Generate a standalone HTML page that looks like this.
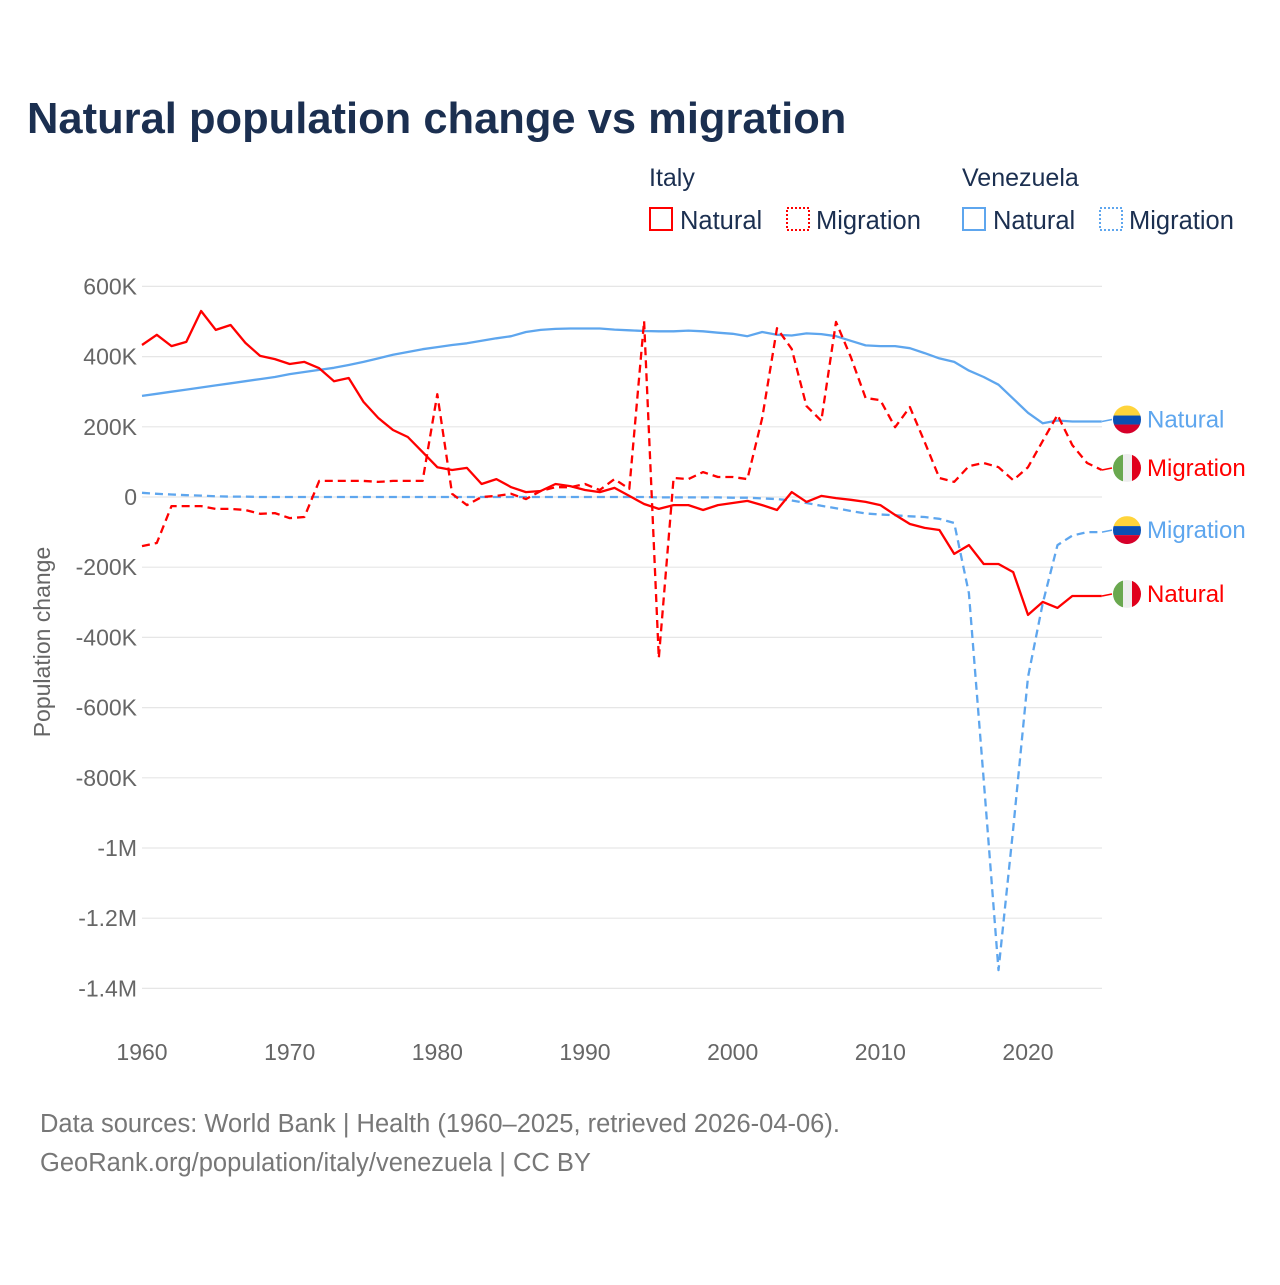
<!DOCTYPE html>
<html><head><meta charset="utf-8"><style>
body{margin:0;background:#fff;font-family:"Liberation Sans",sans-serif;}
svg text{font-family:"Liberation Sans",sans-serif;}
</style></head><body>
<svg id="chart" width="1280" height="1280" viewBox="0 0 1280 1280" xmlns="http://www.w3.org/2000/svg">
<text x="27" y="133" font-size="43.5" font-weight="bold" fill="#1b2f50">Natural population change vs migration</text>
<g>
<text x="649" y="186" font-size="25" fill="#1b2f50">Italy</text>
<text x="962" y="186" font-size="25" fill="#1b2f50">Venezuela</text>
<rect x="650" y="208" width="22" height="22" fill="none" stroke="#ff0000" stroke-width="2"/>
<text x="680" y="229" font-size="25.5" fill="#1b2f50">Natural</text>
<rect x="787" y="208" width="22" height="22" fill="none" stroke="#ff0000" stroke-width="2" stroke-dasharray="2,2"/>
<text x="816" y="229" font-size="25.5" fill="#1b2f50">Migration</text>
<rect x="963" y="208" width="22" height="22" fill="none" stroke="#5ea6ee" stroke-width="2"/>
<text x="993" y="229" font-size="25.5" fill="#1b2f50">Natural</text>
<rect x="1100" y="208" width="22" height="22" fill="none" stroke="#5ea6ee" stroke-width="2" stroke-dasharray="2,2"/>
<text x="1129" y="229" font-size="25.5" fill="#1b2f50">Migration</text>
</g>
<text transform="translate(50,642) rotate(-90)" text-anchor="middle" font-size="23" fill="#666">Population change</text>
<g id="grid"></g><g id="series"></g><g id="labels"></g>
<text x="40" y="1132" font-size="25.5" fill="#777">Data sources: World Bank | Health (1960–2025, retrieved 2026-04-06).</text>
<text x="40" y="1171" font-size="25.5" fill="#777">GeoRank.org/population/italy/venezuela | CC BY</text>
</svg>
<script>
const years=[];for(let y=1960;y<=2025;y++)years.push(y);
const yTicks=[600,400,200,0,-200,-400,-600,-800,-1000,-1200,-1400];
const yTickLabels=["600K","400K","200K","0","-200K","-400K","-600K","-800K","-1M","-1.2M","-1.4M"];
const xTicks=[1960,1970,1980,1990,2000,2010,2020];
const italyNatural=[433,462,430,442,530,476,490,439,402,393,379,385,367,330,339,271,225,191,171,128,85,77,83,37,51,28,14,17,37,31,20,14,26,3,-20,-34,-23,-23,-37,-23,-17,-11,-23,-37,14,-14,3,-3,-8,-14,-23,-51,-77,-88,-94,-162,-137,-191,-191,-214,-336,-299,-316,-282,-282,-282];
const italyMigration=[-140,-131,-26,-26,-26,-34,-34,-37,-48,-46,-60,-57,46,46,46,46,43,46,46,46,293,9,-23,0,3,9,-6,17,28,28,37,20,51,23,501,-459,54,51,71,57,57,51,225,481,422,259,217,499,399,282,276,199,256,157,54,43,88,97,85,48,85,160,234,148,97,77];
const venNatural=[288,294,300,306,312,318,324,330,336,342,350,356,362,368,376,385,395,405,413,421,427,433,438,445,452,458,470,476,479,480,480,480,477,475,473,472,472,474,472,468,465,458,470,462,460,466,464,458,445,432,430,430,424,410,395,385,360,342,320,280,240,210,218,215,215,215];
const venMigration=[12,9,7,5,4,2,1,1,0,0,0,0,0,0,0,0,0,0,0,0,0,0,0,0,0,0,0,0,0,0,0,0,0,0,0,-1,-1,-1,-1,-1,-2,-2,-4,-6,-10,-17,-25,-32,-40,-47,-50,-52,-55,-57,-62,-74,-274,-806,-1348,-945,-513,-302,-137,-110,-100,-100];
const NS="http://www.w3.org/2000/svg";
const X0=142,X1=1102,Y0=497,PX=200/70.2;
const xs=y=>X0+(y-1960)*(886/60);
const ys=v=>Y0-v/PX;
function mk(t,a,p){const e=document.createElementNS(NS,t);for(const k in a)e.setAttribute(k,a[k]);p.appendChild(e);return e;}
const grid=document.getElementById('grid');
yTicks.forEach((v,i)=>{
 const l=mk('line',{x1:X0,x2:X1,y1:ys(v),y2:ys(v),stroke:'#e6e6e6','stroke-width':1.2},grid);
 
 
 const t=mk('text',{x:137,y:ys(v)+8,'text-anchor':'end','font-size':23,fill:'#666'},grid);
 t.textContent=yTickLabels[i];
 
 
});
xTicks.forEach(y=>{
 const t=mk('text',{x:xs(y),y:1060,'text-anchor':'middle','font-size':23,fill:'#666'},grid);
 t.textContent=y;
 
 
});
const S=document.getElementById('series');
function line(data,color,dash,name){
 const d=data.map((v,i)=>(i?'L':'M')+xs(years[i]).toFixed(1)+','+ys(v).toFixed(1)).join('');
 const p=mk('path',{d:d,fill:'none',stroke:color,'stroke-width':2.3,'stroke-linejoin':'round'},S);
 if(dash)p.setAttribute('stroke-dasharray','8,5');
 
 
}
line(venNatural,'#5ea6ee',false,'line-venezuela-natural');
line(venMigration,'#5ea6ee',true,'line-venezuela-migration');
line(italyNatural,'#ff0000',false,'line-italy-natural');
line(italyMigration,'#ff0000',true,'line-italy-migration');
const L=document.getElementById('labels');
function endLabel(v,yOff,color,text,flag,name){
 const yy=ys(v)+yOff;
 const g=mk('g',{},L);
 
 
 mk('line',{x1:X1,x2:1112,y1:ys(v),y2:yy,stroke:color,'stroke-width':1.5},g);
 const cx=1127;
 const cid='c'+name;
 const cp=mk('clipPath',{id:cid},g);mk('circle',{cx:cx,cy:yy,r:14},cp);
 const fg=mk('g',{'clip-path':'url(#'+cid+')'},g);
 if(flag==='it'){
  mk('rect',{x:cx-14,y:yy-14,width:10,height:28,fill:'#6aa84f'},fg);
  mk('rect',{x:cx-4,y:yy-14,width:9,height:28,fill:'#eeeeee'},fg);
  mk('rect',{x:cx+5,y:yy-14,width:9,height:28,fill:'#e0001b'},fg);
 }else{
  mk('rect',{x:cx-14,y:yy-14,width:28,height:10,fill:'#ffd43b'},fg);
  mk('rect',{x:cx-14,y:yy-4,width:28,height:9,fill:'#0a4fb3'},fg);
  mk('rect',{x:cx-14,y:yy+5,width:28,height:9,fill:'#d6002a'},fg);
 }
 const t=mk('text',{x:1147,y:yy+8,'font-size':24,fill:color},g);
 t.textContent=text;
}
endLabel(venNatural[venNatural.length-1],-2,'#5ea6ee','Natural','ve','end-label-venezuela-natural');
endLabel(italyMigration[italyMigration.length-1],-2,'#ff0000','Migration','it','end-label-italy-migration');
endLabel(venMigration[venMigration.length-1],-2,'#5ea6ee','Migration','ve','end-label-venezuela-migration');
endLabel(italyNatural[italyNatural.length-1],-2,'#ff0000','Natural','it','end-label-italy-natural');
</script>
</body></html>
